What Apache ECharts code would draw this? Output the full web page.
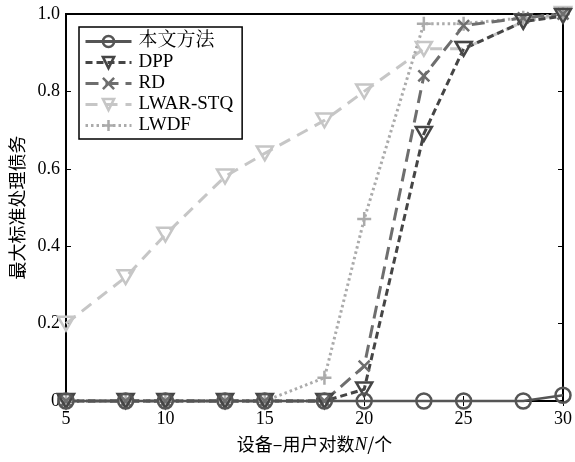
<!DOCTYPE html>
<html>
<head>
<meta charset="utf-8">
<script src="https://cdn.jsdelivr.net/npm/echarts@6/dist/echarts.min.js"></script>
<style>
  html, body { margin: 0; padding: 0; background: #fff; }
  #chart { width: 575px; height: 462px; }
</style>
</head>
<body>
<div id="chart"></div>
<script>
// Number of device–user pairs N
const pairCounts = [5, 8, 10, 13, 15, 18, 20, 23, 25, 28, 30];

// Maximum normalized processing debt per scheme
const proposed = [0, 0, 0, 0, 0, 0, 0, 0, 0, 0, 0.015];
const dpp      = [0, 0, 0, 0, 0, 0, 0.03, 0.69, 0.91, 0.98, 0.995];
const rd       = [0, 0, 0, 0, 0, 0, 0.09, 0.84, 0.97, 0.99, 1.0];
const lwarStq  = [0.2, 0.32, 0.43, 0.58, 0.64, 0.725, 0.8, 0.91, 0.91, 0.98, 1.0];
const lwdf     = [0, 0, 0, 0, 0, 0.06, 0.47, 0.975, 0.975, 0.99, 1.0];

const seriesNames = ['本文方法', 'DPP', 'RD', 'LWAR-STQ', 'LWDF'];

const FONT = "'Liberation Serif', 'Times New Roman', 'Noto Serif CJK SC', 'Noto Sans CJK SC', serif";
const CJK = "'Noto Sans CJK SC', 'Liberation Serif', serif";

const TRI_DOWN = 'path://M0,0L10,0L5,8.66Z';
const CROSS = 'path://M0,0L10,10M10,0L0,10';
const PLUS = 'path://M5,0L5,10M0,5L10,5';

function pairs(vals) {
  return pairCounts.map((x, i) => [x, vals[i]]);
}

function makeSeries(name, vals, color, dash, width, symbol, size) {
  return {
    name: name,
    type: 'line',
    data: pairs(vals),
    clip: false,
    symbol: symbol,
    symbolSize: size,
    symbolKeepAspect: true,
    lineStyle: { color: color, width: width, type: dash },
    itemStyle: { color: 'rgba(0,0,0,0)', borderColor: color, borderWidth: 2.5 },
    emphasis: { disabled: true },
    z: 3
  };
}

const chart = echarts.init(document.getElementById('chart'), null, { renderer: 'canvas' });

chart.setOption({
  animation: false,
  backgroundColor: '#fff',
  textStyle: { fontFamily: FONT },
  grid: {
    left: 63, right: 7, top: 14, bottom: 61,
    show: true, borderColor: '#000', borderWidth: 2, backgroundColor: 'transparent'
  },
  legend: {
    left: 79, top: 27,
    orient: 'vertical',
    data: seriesNames,
    itemWidth: 46, itemHeight: 14, itemGap: 2,
    padding: [5, 9, 4, 5],
    borderColor: '#000', borderWidth: 1.5,
    backgroundColor: '#fff',
    lineStyle: { width: 3 },
    itemStyle: { borderWidth: 2.5 },
    textStyle: { fontFamily: FONT, fontSize: 19, lineHeight: 16, color: '#000', padding: [0, 0, 0, 2] }
  },
  xAxis: [{
    type: 'value', min: 5, max: 30, interval: 5,
    name: '设备–用户对数{i|N}/个',
    nameLocation: 'middle', nameGap: 34,
    nameTextStyle: {
      fontFamily: CJK, fontSize: 18, color: '#000',
      rich: { i: { fontFamily: FONT, fontStyle: 'italic', fontSize: 19, color: '#000' } }
    },
    axisLine: { show: true, lineStyle: { color: '#000', width: 2 } },
    axisTick: { show: true, inside: true, length: 5, lineStyle: { color: '#000' } },
    axisLabel: { fontFamily: FONT, fontSize: 18, color: '#000', margin: 9 },
    splitLine: { show: false }
  }, {
    type: 'value', min: 5, max: 30, interval: 5, position: 'top',
    axisLine: { show: false },
    axisTick: { show: true, inside: true, length: 5, lineStyle: { color: '#000' } },
    axisLabel: { show: false },
    splitLine: { show: false }
  }],
  yAxis: [{
    type: 'value', min: 0, max: 1, interval: 0.2,
    name: '最大标准处理债务',
    nameLocation: 'middle', nameGap: 40, nameRotate: 90,
    nameTextStyle: { fontFamily: CJK, fontSize: 18, color: '#000' },
    axisLine: { show: true, lineStyle: { color: '#000', width: 2 } },
    axisTick: { show: true, inside: true, length: 5, lineStyle: { color: '#000' } },
    axisLabel: {
      fontFamily: FONT, fontSize: 18, color: '#000', margin: 6,
      formatter: v => (v === 0 ? '0' : v.toFixed(1))
    },
    splitLine: { show: false }
  }, {
    type: 'value', min: 0, max: 1, interval: 0.2, position: 'right',
    axisLine: { show: false },
    axisTick: { show: true, inside: true, length: 5, lineStyle: { color: '#000' } },
    axisLabel: { show: false },
    splitLine: { show: false }
  }],
  series: [
    makeSeries('LWAR-STQ', lwarStq, '#c6c6c6', [12, 8], 3, TRI_DOWN, 16),
    makeSeries('LWDF', lwdf, '#ababab', [2.5, 3], 3, PLUS, 14),
    makeSeries('RD', rd, '#6e6e6e', [13, 7], 3, CROSS, 11),
    makeSeries('DPP', dpp, '#454545', [7, 4], 3, TRI_DOWN, 16),
    makeSeries('本文方法', proposed, '#555555', 'solid', 2.5, 'circle', 15)
  ]
});
</script>
</body>
</html>
